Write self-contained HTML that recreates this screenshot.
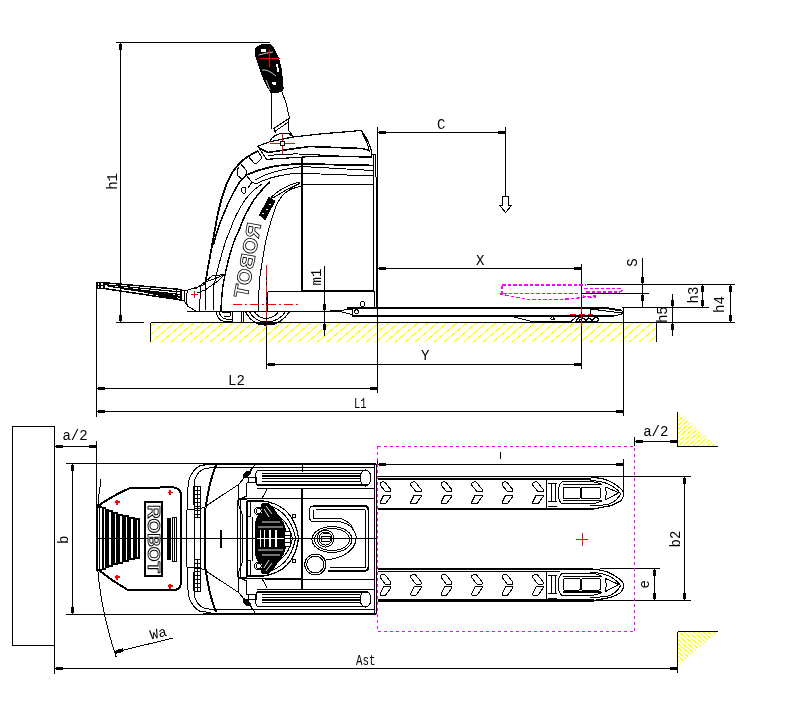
<!DOCTYPE html>
<html><head><meta charset="utf-8"><style>
html,body{margin:0;padding:0;background:#fff;width:801px;height:717px;overflow:hidden}
svg{display:block}

</style></head><body>
<svg style="will-change:transform" width="801" height="717" viewBox="0 0 801 717" shape-rendering="crispEdges">
<defs>
<clipPath id="cg"><rect x="151" y="323" width="505.5" height="19.5"/></clipPath>
<clipPath id="ct1"><path d="M678 412L716.5 446H678Z"/></clipPath>
<clipPath id="ct2"><path d="M678 632H718L678 665.5Z"/></clipPath>
</defs>
<!-- ground hatch -->
<path d="M125.95,322.5 L102.42,342.5 M135.70,322.5 L112.17,342.5 M145.45,322.5 L121.92,342.5 M155.20,322.5 L131.67,342.5 M164.95,322.5 L141.42,342.5 M174.70,322.5 L151.17,342.5 M184.45,322.5 L160.92,342.5 M194.20,322.5 L170.67,342.5 M203.95,322.5 L180.42,342.5 M213.70,322.5 L190.17,342.5 M223.45,322.5 L199.92,342.5 M233.20,322.5 L209.67,342.5 M242.95,322.5 L219.42,342.5 M252.70,322.5 L229.17,342.5 M262.45,322.5 L238.92,342.5 M272.20,322.5 L248.67,342.5 M281.95,322.5 L258.42,342.5 M291.70,322.5 L268.17,342.5 M301.45,322.5 L277.92,342.5 M311.20,322.5 L287.67,342.5 M320.95,322.5 L297.42,342.5 M330.70,322.5 L307.17,342.5 M340.45,322.5 L316.92,342.5 M350.20,322.5 L326.67,342.5 M359.95,322.5 L336.42,342.5 M369.70,322.5 L346.17,342.5 M379.45,322.5 L355.92,342.5 M389.20,322.5 L365.67,342.5 M398.95,322.5 L375.42,342.5 M408.70,322.5 L385.17,342.5 M418.45,322.5 L394.92,342.5 M428.20,322.5 L404.67,342.5 M437.95,322.5 L414.42,342.5 M447.70,322.5 L424.17,342.5 M457.45,322.5 L433.92,342.5 M467.20,322.5 L443.67,342.5 M476.95,322.5 L453.42,342.5 M486.70,322.5 L463.17,342.5 M496.45,322.5 L472.92,342.5 M506.20,322.5 L482.67,342.5 M515.95,322.5 L492.42,342.5 M525.70,322.5 L502.17,342.5 M535.45,322.5 L511.92,342.5 M545.20,322.5 L521.67,342.5 M554.95,322.5 L531.42,342.5 M564.70,322.5 L541.17,342.5 M574.45,322.5 L550.92,342.5 M584.20,322.5 L560.67,342.5 M593.95,322.5 L570.42,342.5 M603.70,322.5 L580.17,342.5 M613.45,322.5 L589.92,342.5 M623.20,322.5 L599.67,342.5 M632.95,322.5 L609.42,342.5 M642.70,322.5 L619.17,342.5 M652.45,322.5 L628.92,342.5 M662.20,322.5 L638.67,342.5 M671.95,322.5 L648.42,342.5 M681.70,322.5 L658.17,342.5" stroke="#ff0" stroke-width="1" fill="none" clip-path="url(#cg)"/>
<g fill="none" stroke="#000" stroke-width="1">
<!-- SIDE VIEW DIMENSIONS -->
<path d="M116 42.5H270 M120.5 42.5V322.5 M116 322.5H144 M150.5 322.5H735 M150.5 322.5V342 M656.5 322.5V342"/>
<path d="M96.5 285V416.5 M96.5 388.5H377.5 M96.5 411.5H623.5 M377.5 127V393 M623.5 307V416"/>
<path d="M266.5 270V369 M266.5 364.5H581.5 M581.5 264V369 M377.5 268.5H581.5"/>
<path d="M377.5 132.5H505.5 M505.5 127V196"/>
<path d="M502.5 196.5H508.5V205H512L505.5 212.5L499.5 205H502.5Z"/>
<path d="M587 284.5H735 M581 293.5H649 M622 307.5H709 M642.5 258V307 M702.5 284.5V307.5 M730.5 284.5V322.5 M672.5 293.5V335.5"/>
<path d="M324.5 266V335.5"/>
<!-- TOP VIEW DIMENSIONS -->
<path d="M12.5 426.5H54.5V645.5H12.5Z M54.5 645V674 M54.5 446.5H96.5 M96.5 441V505"/>
<path d="M66 463.5H375 M66 614.5H375 M72.5 464V614 M54.5 668.5H677"/>
<path d="M377.5 464.5H623.5 M623.5 459V497 M377.5 459V465"/>
<path d="M377.5 476.5H691 M585 600.5H691 M684.5 477V600 M600 568.5H660 M654.5 569V600"/>
<path d="M634.5 437V446 M634.5 441.5H677"/>
<path d="M677.5 412V446.5H718 M677.5 631.5V673 M677.5 631.5H718"/>
</g>
<!-- wall triangles hatch -->
<path d="M675.10,411 L633.34,446.5 M680.00,411 L638.24,446.5 M684.90,411 L643.14,446.5 M689.80,411 L648.04,446.5 M694.70,411 L652.94,446.5 M699.60,411 L657.84,446.5 M704.50,411 L662.74,446.5 M709.40,411 L667.64,446.5 M714.30,411 L672.54,446.5 M719.20,411 L677.44,446.5 M724.10,411 L682.34,446.5 M729.00,411 L687.24,446.5 M733.90,411 L692.14,446.5 M738.80,411 L697.04,446.5 M743.70,411 L701.94,446.5 M748.60,411 L706.84,446.5 M753.50,411 L711.74,446.5 M758.40,411 L716.64,446.5 M763.30,411 L721.54,446.5 M768.20,411 L726.44,446.5" stroke="#ff0" stroke-width="1" fill="none" clip-path="url(#ct1)"/>
<path d="M600.00,631.5 L640.00,665.5 M604.90,631.5 L644.90,665.5 M609.80,631.5 L649.80,665.5 M614.70,631.5 L654.70,665.5 M619.60,631.5 L659.60,665.5 M624.50,631.5 L664.50,665.5 M629.40,631.5 L669.40,665.5 M634.30,631.5 L674.30,665.5 M639.20,631.5 L679.20,665.5 M644.10,631.5 L684.10,665.5 M649.00,631.5 L689.00,665.5 M653.90,631.5 L693.90,665.5 M658.80,631.5 L698.80,665.5 M663.70,631.5 L703.70,665.5 M668.60,631.5 L708.60,665.5 M673.50,631.5 L713.50,665.5 M678.40,631.5 L718.40,665.5 M683.30,631.5 L723.30,665.5 M688.20,631.5 L728.20,665.5 M693.10,631.5 L733.10,665.5 M698.00,631.5 L738.00,665.5 M702.90,631.5 L742.90,665.5 M707.80,631.5 L747.80,665.5 M712.70,631.5 L752.70,665.5 M717.60,631.5 L757.60,665.5 M722.50,631.5 L762.50,665.5 M727.40,631.5 L767.40,665.5 M732.30,631.5 L772.30,665.5 M737.20,631.5 L777.20,665.5 M742.10,631.5 L782.10,665.5 M747.00,631.5 L787.00,665.5 M751.90,631.5 L791.90,665.5 M756.80,631.5 L796.80,665.5" stroke="#ff0" stroke-width="1" fill="none" clip-path="url(#ct2)"/>
<!-- magenta rect -->
<rect x="377.5" y="446.5" width="257" height="185" fill="none" stroke="#f0f" stroke-dasharray="3 3"/>
<!-- center line -->
<path d="M97 538.5H377" stroke="#000" fill="none"/>
<!-- red cross -->
<path d="M576 539.5H588 M582.5 533V546" stroke="#f00" fill="none"/>
<!-- ===== SIDE VIEW TRUCK ===== -->
<g fill="none" stroke="#000" stroke-width="1" shape-rendering="crispEdges" stroke-linejoin="round">
<!-- tiller grip -->
<path d="M256,47.7 L261,44.9 L269.3,44.2 L272.8,46.3 L274.9,51.2 L278.4,58.1 L281.1,67.9 L282.5,80.4 L283.2,88.8 L281.8,91.6 L273.5,93 L270.7,92.3 L267.9,87.4 L263.7,79 L259.5,67.9 L256,56.7 L255.3,51.2Z" fill="#000"/>
<path d="M261,49.5 L266,48.8 L266.5,51.5 L261.5,52Z M276,64.5 L277.8,64 L279.3,71.5 L277.6,73Z M272,82 L275.5,81.5 L276.5,85 L272.8,85.5Z" fill="#fff" stroke="none"/>
<path d="M258.5,55 Q266,53 273,52 M262,70 Q268,69 276,76 M266,80 L270,90" stroke="#fff" stroke-width="0.8" fill="none"/>
<!-- tiller shaft -->
<path d="M271.8,93 V128.5 M281.8,91.6 L286,102.8 L289.5,118.1 L273.5,128.6 M274.9,131.4 L288.1,122.3 M288.8,119 V130.7 L293,136.2 M274.2,129.3 L275.6,133.4"/>
<!-- tiller base dome -->
<path d="M269.2,141.9 Q274,134 281.5,133.6 L288.5,133.1 L292.8,137"/>
<!-- hood -->
<path d="M257.9,146.2 L269,142 L292.8,137 L320,134 L361,130.5 Q368,138 371.5,151.5 L371.5,157 L320,156 L266.6,159.3 Z" stroke-width="1.2"/>
<path d="M361.9,133.1 Q367,140 369.5,152"/>
<path d="M259,148 L268,152.5 Q290,149 310,146.5 L362,148.5 L370,150.5" stroke-width="1.6"/>
<path d="M268,155.5 Q290,153 310,154.5 L368,157.5"/>
<!-- body top lines below hood -->
<path d="M248,174.5 Q262,168 280,165.5 L298,163.8 L373,165.5" stroke-width="1.8"/>
<path d="M255,180 Q268,172 290,168.5 L302,166.5 L373,170.5"/>
<path d="M256,184 Q268,177 290,174 L302,173.3 L373,176"/>
<path d="M302,185 L316,184.5 L373,184.5"/>
<!-- right edge verticals -->
<path d="M373.5,154.5 V290 M375.5,154.5 V177 M372,154.5 H375.5"/>
<path d="M376.6,177 V308" stroke-width="2"/>
<!-- battery box -->
<path d="M302,157.5 V291 H374" stroke-width="2"/>
<!-- inner arch (line 5) -->
<path d="M301,186.5 Q290,188 284,194 Q277,201 274,212 Q268,230 265,245 Q262,262 259.5,280 L258,311"/>
<!-- slot -->
<path d="M271.5,197 Q283,186 299,182 L299.5,183.5 Q285,190 273,198Z"/>
<!-- front cover band curves -->
<path d="M258,151 Q247,156 240,163 Q232,171 227,183 Q221,198 217,218 L213,240 Q210,257 207.5,270 L205.5,283" stroke-width="1.8"/>
<path d="M247,175 Q240,180 236,188 Q228,202 222,218 Q216,233 213.5,245" stroke-width="1.5"/>
<path d="M262,184 Q250,192 245,200 Q235,215 231,228 L226,240 Q221,256 217.5,270 L214,285 L213.5,300 L213,311"/>
<path d="M270,182 Q258,193 252,203 Q244,216 240,228 L234.5,240 Q229,256 226,270 L223,285 L221.5,300 L221,311" stroke-width="1.5"/>
<!-- shoulder pieces -->
<path d="M240,163 L246,170 L247,175 M248,156 L254,163 M254,152.5 L258,151 L262,158 L257,163 L254,163 M242,179 L248,174.5 M245,174 L252,182 L256,184 M252,182 L248,188"/>
<path d="M238.5,167.5 Q236,172 238,176 L242,179"/>
<path d="M243,193 Q240,190 243,187 L246,188 L245,193Z"/>
<!-- front tiller base wedge -->
<path d="M195,289 L205,282 L213,279.5 L224.5,274.5 L218,281 L205,290 M206,281 L212,276 L224.5,274.5 M205,290 L197,293"/>
<path d="M187.6,290.2 L201.9,285.7 L206,283 M187.6,290.2 Q185,300 187.6,306 L195.9,311.2 L213,311"/>
<path d="M201,287 L199,311 M206,284 L205,311"/>
</g>
<g fill="none" stroke="#f00" stroke-width="1">
<path d="M270,143.5H295 M282.5,133V154"/>
<path d="M260,58.5H280 M269.5,50V67"/>
</g>
<path d="M190.5,294.5H198 M194.5,291V298" fill="none" stroke="#f00"/>
<g fill="#fff" stroke="#000" stroke-width="1"><rect x="280.5" y="141.5" width="4" height="4"/>
</g>
<!-- side lower: chassis, wheels, forks -->
<g fill="none" stroke="#000" stroke-width="1" shape-rendering="crispEdges" stroke-linejoin="round">
<!-- frame rect -->
<path d="M267.5,291.5 V311"/>
<path d="M374.8,291 V308"/>
<!-- chassis bottom -->
<path d="M187,311.25 H330 L340,310.6"/>
<!-- wheel bay verticals -->
<path d="M232.5,311 V322 M241,311 V322 M243,311 V322"/>
<!-- caster wheel -->
<path d="M216,311 Q217,320 224,321.5 L232,321.5 M219,311 Q220,318 226,319 L232,319 M222,312 L230,312 L230,316 L224,316" />
<!-- drive wheel -->
<path d="M245,311 Q252,325 266,325 Q281,325 290,311" stroke-width="1.2"/>
<path d="M249,311 Q255,322 266,322 Q279,322 286,311"/>
<path d="M254,311 Q258,318 266,318.5 Q275,318 279,311"/>
<path d="M258,324 L275,324" stroke-width="2"/>
<!-- fork side view -->
<path d="M347,308 H606.3 L621,310.5" stroke-width="2"/>
<path d="M352,315.6 H614" stroke-width="2"/>
<path d="M352,308 V315.6"/>
<path d="M330,311 L340,310.6 L352,309 M330,311 L340,311.5 L352,314.4"/>
<circle cx="356.5" cy="311.8" r="2"/>
<circle cx="362.5" cy="304" r="2.5"/>
<path d="M590.2,308 V315"/>
<path d="M606.3,308 Q617,309 621.5,310.5 L623,312 L621.5,314.5 L614,315.6"/>
<path d="M590.6,309 L622,313"/>
<path d="M480,315.6 L510,316 L530,321 L571.5,321 L576,317 L600,316"/>
<path d="M576,321.5 Q578,316.5 584,316.5 L590,316.5 Q597,316.5 599,319 L597,321.5 Z" stroke-width="1.3"/>
<path d="M579,320.5 L583,318 L586,320.5 L589,318 L592,320.5 L595,318" stroke-width="1.4"/>
<path d="M577,321.5 H597" stroke-width="1.6"/>
<path d="M550.5,319 L552.4,316.5 L554.5,319 Z"/>
<!-- lowered tiller arm -->
<path d="M97,282.7 L104,282.7 L180.9,289.5 V300 L104,288.5 L97,288.5 Z" stroke-width="1.5"/>
<path d="M104,284.6 L180.9,292 M108,286.3 L180.9,294.6 M120,288.3 L180.9,297.3 M104,282.7 V288.5 M100,282.7 V288.5" stroke-width="1.2"/>
<path d="M97,285.5 H104" stroke-width="1"/>
<path d="M130,289.5 L178,296" stroke-width="1.6"/>
<path d="M145,292.3 L178,298.6" stroke-width="1.4"/>
<path d="M176.5,290 V299.5" stroke-width="1.5"/>
<path d="M181,290.5 L184,291 L188,290 M184,291 V300 L181,300 M184,300 L187.6,306"/>
</g>
<!-- magenta raised fork -->
<g fill="none" stroke="#f0f" stroke-width="1.2" stroke-dasharray="3.5 2" shape-rendering="crispEdges">
<path d="M502,285 H586"/>
<path d="M502,285.5 V293.5 M500,294 L530,299.9 L570,299 L598,295.5"/>
<path d="M503,293.5 H579"/>
<path d="M584,288.5 H620 L622,290.5 L620,292 H584"/>
<path d="M583,296 L590,297.5 L596,297"/>
</g>
<!-- red center lines -->
<g fill="none" stroke="#f00" stroke-width="1">
<path d="M232.5,304.3 H301" stroke-dasharray="9 3 2 3"/>
<path d="M266.7,265 V327" stroke-dasharray="12 3 2 3"/>
<path d="M570,314.5 H593" stroke-dasharray="6 3"/>
<path d="M581.5,307 V327" stroke-dasharray="5 2"/>
</g>
<g fill="none" stroke="#000" stroke-width="1" shape-rendering="crispEdges">
<path d="M267.5,291.5 H302"/>
<path d="M259.5,215 L265,219.5 L275,201 L269,197.5 Z" fill="#000"/>
<path d="M262,213 L264,214 M266,209 L268,210 M269,204 L271,205" stroke="#fff"/>
<text transform="translate(247,260) rotate(-79.5) scale(-1,1)" x="0" y="7.5" text-anchor="middle" font-family="Liberation Sans, sans-serif" font-weight="bold" font-size="20" textLength="76" lengthAdjust="spacingAndGlyphs" fill="#fff" stroke="#000" stroke-width="0.8">ROBOT</text>
</g>
<!-- ===== TOP VIEW TRUCK ===== -->
<g fill="none" stroke="#000" stroke-width="1" shape-rendering="crispEdges" stroke-linejoin="round">
<path d="M203,464 H375.5 M203,613.5 H375.5" stroke-width="2"/>
<path d="M374.1,464 V614 M376.3,464 V614"/>
<path d="M98,506 Q112,496 130,488 L172.5,487.3 Q181,487.5 181,496 V582 Q181,590.5 172,590.5 L128,590 Q112,581 98.5,570" stroke-width="2"/>
<path d="M101,479.5 A374,374 0 0,0 116.3,657.3"/>
<path d="M114.7,652.2 L172.5,638.2"/>
<path d="M116,650.6 L122.5,649 L123,651.6 L116.5,653.2Z" fill="#000"/>
<path d="M97.2,505 V571" stroke-width="1.5"/>
<path d="M96.3,506.3 L102,506.3 L102,507.2 L105.5,507.2 L105.5,508.8 L108.8,508.8 L108.8,510 L112.5,510 L112.5,512 L118.2,512 L118.2,513.5 L123.2,513.5 L123.2,515.4 L128.9,515.4 L128.9,517.3 L135.2,517.3 L135.2,518.2 L139.9,518.2 L139.9,558.8 L135.2,558.8 L135.2,559.7 L128.9,559.7 L128.9,561.6 L123.2,561.6 L123.2,563.5 L118.2,563.5 L118.2,565 L112.5,565 L112.5,567 L108.8,567 L108.8,568.2 L105.5,568.2 L105.5,569.8 L102,569.8 L102,570.7 L96.3,570.7 Z" fill="#000" stroke="none"/>
<rect x="97.8" y="508.3" width="1.3" height="60.4" fill="#fff" stroke="none"/>
<rect x="100.3" y="508.3" width="1.6" height="60.4" fill="#fff" stroke="none"/>
<rect x="103.8" y="509.2" width="1.2" height="58.6" fill="#fff" stroke="none"/>
<rect x="109.1" y="512" width="1.9" height="53.0" fill="#fff" stroke="none"/>
<rect x="115.1" y="514" width="1.2" height="49.0" fill="#fff" stroke="none"/>
<rect x="120.1" y="515.5" width="1.9" height="46.0" fill="#fff" stroke="none"/>
<rect x="125.7" y="517.4" width="1.6" height="42.2" fill="#fff" stroke="none"/>
<rect x="131.1" y="519.3" width="1.9" height="38.4" fill="#fff" stroke="none"/>
<rect x="136.7" y="520.2" width="1.6" height="36.6" fill="#fff" stroke="none"/>
<path d="M96.3,538.5 H140" stroke="#000" stroke-width="1"/>
<rect x="167" y="518" width="3.6" height="41.7" fill="#000" stroke="none"/>
<rect x="172.3" y="517.4" width="4.2" height="43.6"/>
<path d="M174.4,517.4 V561"/>
<rect x="145" y="502" width="17" height="74" stroke-width="2"/>
<text transform="translate(153.5,539) rotate(90)" x="0" y="5.5" text-anchor="middle" font-family="Liberation Sans, sans-serif" font-weight="bold" font-size="16" textLength="68" lengthAdjust="spacingAndGlyphs" fill="#fff" stroke="#000" stroke-width="0.9">ROBOT</text>
<path d="M187.5,510 Q187,490 189,480 Q192,470 200,465.6 L211,464.4"/>
<path d="M187.5,510 Q187,490 189,480 Q192,470 200,465.6 L211,464.4" transform="translate(0,1077) scale(1,-1)"/>
<path d="M194,505 Q193,488 195,479 Q198,471 204,469 L212,467.5"/>
<path d="M194,505 Q193,488 195,479 Q198,471 204,469 L212,467.5" transform="translate(0,1077) scale(1,-1)"/>
<path d="M194.4,486 H200.6 V517.5 H194.4 Z M194.4,490 H200.6 M194.4,494 H200.6 M194.4,498 H200.6 M194.4,502 H200.6 M194.4,506 H200.6 M194.4,510 H200.6 M194.4,514 H200.6 M197.5,486 V517.5"/>
<path d="M194.4,486 H200.6 V517.5 H194.4 Z M194.4,490 H200.6 M194.4,494 H200.6 M194.4,498 H200.6 M194.4,502 H200.6 M194.4,506 H200.6 M194.4,510 H200.6 M194.4,514 H200.6 M197.5,486 V517.5" transform="translate(0,1077) scale(1,-1)"/>
<path d="M216,465 Q212.5,474 210,484 Q207.5,495 205.5,507.5" stroke-width="2"/>
<path d="M216,465 Q212.5,474 210,484 Q207.5,495 205.5,507.5" transform="translate(0,1077) scale(1,-1)" stroke-width="2"/>
<path d="M206,506 L238.7,484.4 L250,471 L255,464.5"/>
<path d="M206,506 L238.7,484.4 L250,471 L255,464.5" transform="translate(0,1077) scale(1,-1)"/>
<path d="M238.7,484.4 V505 L240.5,510 L242.5,515 V538.5"/>
<path d="M238.7,484.4 V505 L240.5,510 L242.5,515 V538.5" transform="translate(0,1077) scale(1,-1)"/>
<path d="M211,467.5 H374"/>
<path d="M211,467.5 H374" transform="translate(0,1077) scale(1,-1)"/>
<path d="M187.5,510 L205.5,507.5"/>
<path d="M187.5,510 L205.5,507.5" transform="translate(0,1077) scale(1,-1)"/>
<path d="M237.8,499.8 H246.9 M239,498.4 H302"/>
<path d="M237.8,499.8 H246.9 M239,498.4 H302" transform="translate(0,1077) scale(1,-1)"/>
<path d="M243,476.5 Q244,472 248,471.5 Q250,472 249,475 Q247,478.5 243,478Z" fill="#000"/>
<path d="M243,476.5 Q244,472 248,471.5 Q250,472 249,475 Q247,478.5 243,478Z" fill="#000" transform="translate(0,1077) scale(1,-1)"/>
<path d="M249.7,475 L252.7,466.7" />
<path d="M249.7,475 L252.7,466.7"  transform="translate(0,1077) scale(1,-1)"/>
<path d="M246.7,477.6 H256.5 V482.5 H246.7 M248.5,477.6 Q247.5,480 248.5,482.5" />
<path d="M246.7,477.6 H256.5 V482.5 H246.7 M248.5,477.6 Q247.5,480 248.5,482.5"  transform="translate(0,1077) scale(1,-1)"/>
<path d="M246.7,482.5 V496 L240,499" />
<path d="M246.7,482.5 V496 L240,499"  transform="translate(0,1077) scale(1,-1)"/>
<path d="M267,489.2 L261.7,499" />
<path d="M267,489.2 L261.7,499"  transform="translate(0,1077) scale(1,-1)"/>
<path d="M186.5,510 V567 M205.3,507.5 V569.5"/>
<path d="M194.5,517 V560 M200.6,517 V560"/>
<path d="M205.3,507.5 V569.5" stroke-width="2"/>
<rect x="219.5" y="529.5" width="2.5" height="18" fill="#000" stroke="none"/>
<path d="M257,470.8 H368 M257,485 H368" stroke-width="1.2"/>
<path d="M262,473.6 H360" stroke-width="1"/>
<path d="M262,476.2 H360" stroke-width="1.6"/>
<path d="M262,478.6 H360" stroke-width="1.6"/>
<path d="M262,481.0 H360" stroke-width="1"/>
<ellipse cx="365.5" cy="477.9" rx="5.5" ry="8.1"/>
<path d="M362,471.8 Q358,477.9 362,484.0"/>
<path d="M257,470.8 Q253,477.9 257,485"/>
<path d="M257,592 H368 M257,606.2 H368" stroke-width="1.2"/>
<path d="M262,594.8 H360" stroke-width="1"/>
<path d="M262,597.4 H360" stroke-width="1.6"/>
<path d="M262,599.8 H360" stroke-width="1.6"/>
<path d="M262,602.2 H360" stroke-width="1"/>
<ellipse cx="365.5" cy="599.1" rx="5.5" ry="8.1"/>
<path d="M362,593.0 Q358,599.1 362,605.2"/>
<path d="M257,592 Q253,599.1 257,606.2"/>
<path d="M302,464 V472 M302,489 V590"/>
<path d="M302,489 V590" stroke-width="1.8"/>
<path d="M257,488 H374 M257,589 H374"/>
<path d="M265,498 H374 M265,579 H374"/>
<path d="M313,506 H364 Q368.4,506 368.4,510 V567 Q368.4,571 364,571 H328" stroke-width="1.8"/>
<path d="M313,506 Q309.5,506 309.5,510 V517 Q309.5,521.5 313,521.5 H336 Q352,522 356,536 Q357,548 344,555 Q336,559 326,560"/>
<path d="M316,509.5 H365 V567.5 H330" stroke-width="1"/>
<path d="M313,509.5 V518 H336 Q348,519 353,528"/>
<ellipse cx="332" cy="539.5" rx="20" ry="13"/>
<ellipse cx="332" cy="539.5" rx="17.5" ry="11"/>
<circle cx="325.5" cy="538.5" r="8.5"/>
<circle cx="325.5" cy="538.5" r="6.5"/>
<path d="M321,536 H330 V541 H321 Z M322.5,533 H328.5"/>
<circle cx="315.3" cy="564.5" r="10.5"/>
<circle cx="315.3" cy="564.5" r="8.5"/>
<path d="M247,501 H263 Q294,505 298.5,538.5 Q294,572 263,576 H247 Z" stroke-width="1.2"/>
<path d="M263,504 Q290,509 295.5,538.5 Q290,568 263,573"/>
<path d="M258,507 Q287,513 292.5,538.5 Q287,564 258,570"/>
<path d="M255.3,521 L258,515 L262,503 L268,502.5 L275,510 L283.5,522 L286,529 L286,548 L283.5,555 L275,567 L268,574.5 L262,574 L258,562 L255.3,556 Z" fill="#000" stroke="none"/>
<path d="M260.6,530 V547 M264.3,530 V547 M276,530 V547 M270,530 V547 M257,538.5 H284" stroke="#fff" stroke-width="1.3"/>
<path d="M266,506 L272,514 M264,509 L269,517 M266,571 L272,563 M264,568 L269,560 M262,522 L280,522 M262,555 L280,555 M258,527 H283 M258,550 H283" stroke="#fff" stroke-width="0.9"/>
<rect x="284.5" y="531" width="6" height="15" fill="#fff"/>
<path d="M284.5,535 H290.5 M284.5,538.5 H290.5 M284.5,542 H290.5"/>
<circle cx="258.7" cy="511" r="4" fill="#fff"/><circle cx="258.7" cy="511" r="2.5"/>
<circle cx="258.7" cy="566" r="4" fill="#fff"/><circle cx="258.7" cy="566" r="2.5"/>
<circle cx="294.1" cy="515.8" r="1.8"/><circle cx="294.1" cy="561.2" r="1.8"/>
<path d="M246,501.4 H250.5 V516.5 H246 Z M246,576 H250.5 V560.5 H246 Z M252.6,516.5 V560.5"/>
<path d="M240.6,500 V577 M237.8,500 V577"/>
</g>
<g stroke="#f00" stroke-width="1.5" fill="none">
<path d="M114.5,502 H119.5 M117,499.5 V504.5"/>
<path d="M167.5,492.5 H172.5 M170,490.0 V495.0"/>
<path d="M114.5,577 H119.5 M117,574.5 V579.5"/>
<path d="M167.5,586 H172.5 M170,583.5 V588.5"/>
</g>
<g fill="none" stroke="#000" stroke-width="1" shape-rendering="crispEdges" stroke-linejoin="round">
<path d="M377.5,478.7 H590.6" stroke-width="2"/>
<path d="M377.5,508.5 H594" stroke-width="2"/>
<path d="M590.6,477.1 Q605,478.3 612,482.40000000000003 Q621,487.6 623.7,492.3 V495.8 Q621,501.8 618.7,502.0 Q612,505.8 607.4,506.3 L594,508.8" stroke-width="1.2"/>
<path d="M590,480.3 Q603,481.3 610,484.8 Q618,489.3 620.5,493.8 Q618,499.8 610,503.8 Q603,505.8 590,505.5"/>
<path d="M546.2,478.8 V507.8"/>
<path d="M548,479.8 H557 M548,506.3 H557 M551,483.8 V501.8 M555,483.8 V501.8 M548,483.8 H557 M548,501.8 H557"/>
<path d="M562,481.8 Q558,484.8 558.5,492.8 Q558,500.8 562,503.8 H588 Q596,503.8 602,500.8 M562,481.8 H590 Q598,481.8 602,484.8"/>
<rect x="563.6" y="487.2" width="16.6" height="11.2" rx="1"/>
<rect x="581.2" y="487.2" width="19" height="11.2" rx="1"/>
<path d="M563,484.8 H601 M563,500.3 H601" stroke-width="1.2"/>
<path d="M605.5,486.8 L618.7,492.8 L605.5,499.8 Q607,493.3 605.5,486.8"/>
<path d="M380.2,483.0 L383.2,481.5 L385.2,482.5 L390.7,489.5 V491.5 H385.2 L380.2,485.0 Z"/>
<path d="M383.7,495 H390.7 V496.5 L385.7,503.5 H380.2 V502 Z"/>
<path d="M410.7,483.0 L413.7,481.5 L415.7,482.5 L421.2,489.5 V491.5 H415.7 L410.7,485.0 Z"/>
<path d="M414.2,495 H421.2 V496.5 L416.2,503.5 H410.7 V502 Z"/>
<path d="M441.2,483.0 L444.2,481.5 L446.2,482.5 L451.7,489.5 V491.5 H446.2 L441.2,485.0 Z"/>
<path d="M444.7,495 H451.7 V496.5 L446.7,503.5 H441.2 V502 Z"/>
<path d="M471.7,483.0 L474.7,481.5 L476.7,482.5 L482.2,489.5 V491.5 H476.7 L471.7,485.0 Z"/>
<path d="M475.2,495 H482.2 V496.5 L477.2,503.5 H471.7 V502 Z"/>
<path d="M502.2,483.0 L505.2,481.5 L507.2,482.5 L512.7,489.5 V491.5 H507.2 L502.2,485.0 Z"/>
<path d="M505.7,495 H512.7 V496.5 L507.7,503.5 H502.2 V502 Z"/>
<path d="M532.7,483.0 L535.7,481.5 L537.7,482.5 L543.2,489.5 V491.5 H537.7 L532.7,485.0 Z"/>
<path d="M536.2,495 H543.2 V496.5 L538.2,503.5 H532.7 V502 Z"/>
<path d="M377.5,569 H590.6" stroke-width="2"/>
<path d="M377.5,600 H594" stroke-width="3"/>
<path d="M377.5,571.5 H560"/>
<path d="M590.6,568.8 Q605,570.0 612,574.1 Q621,579.3 623.7,584.0 V587.5 Q621,593.5 618.7,593.7 Q612,597.5 607.4,598.0 L594,600.5" stroke-width="1.2"/>
<path d="M590,572.0 Q603,573.0 610,576.5 Q618,581.0 620.5,585.5 Q618,591.5 610,595.5 Q603,597.5 590,597.2"/>
<path d="M546.2,570.5 V599.5"/>
<path d="M548,571.5 H557 M548,598.0 H557 M551,575.5 V593.5 M555,575.5 V593.5 M548,575.5 H557 M548,593.5 H557"/>
<path d="M562,573.5 Q558,576.5 558.5,584.5 Q558,592.5 562,595.5 H588 Q596,595.5 602,592.5 M562,573.5 H590 Q598,573.5 602,576.5"/>
<rect x="563.6" y="578.9" width="16.6" height="11.2" rx="1"/>
<rect x="581.2" y="578.9" width="19" height="11.2" rx="1"/>
<path d="M563,576.5 H601 M563,592.0 H601" stroke-width="1.2"/>
<path d="M605.5,578.5 L618.7,584.5 L605.5,591.5 Q607,585.0 605.5,578.5"/>
<path d="M380.2,575.5 L383.2,574 L385.2,575 L390.7,582 V584 H385.2 L380.2,577.5 Z"/>
<path d="M383.7,586.5 H390.7 V588.0 L385.7,595.0 H380.2 V593.5 Z"/>
<path d="M410.7,575.5 L413.7,574 L415.7,575 L421.2,582 V584 H415.7 L410.7,577.5 Z"/>
<path d="M414.2,586.5 H421.2 V588.0 L416.2,595.0 H410.7 V593.5 Z"/>
<path d="M441.2,575.5 L444.2,574 L446.2,575 L451.7,582 V584 H446.2 L441.2,577.5 Z"/>
<path d="M444.7,586.5 H451.7 V588.0 L446.7,595.0 H441.2 V593.5 Z"/>
<path d="M471.7,575.5 L474.7,574 L476.7,575 L482.2,582 V584 H476.7 L471.7,577.5 Z"/>
<path d="M475.2,586.5 H482.2 V588.0 L477.2,595.0 H471.7 V593.5 Z"/>
<path d="M502.2,575.5 L505.2,574 L507.2,575 L512.7,582 V584 H507.2 L502.2,577.5 Z"/>
<path d="M505.7,586.5 H512.7 V588.0 L507.7,595.0 H502.2 V593.5 Z"/>
<path d="M532.7,575.5 L535.7,574 L537.7,575 L543.2,582 V584 H537.7 L532.7,577.5 Z"/>
<path d="M536.2,586.5 H543.2 V588.0 L538.2,595.0 H532.7 V593.5 Z"/>
</g>
<!-- labels -->
<g font-family="Liberation Mono" font-size="14" fill="#000">
<text x="436.9" y="129.1">C</text>
<text x="475.9" y="265.4">X</text>
<text x="421.0" y="360.2">Y</text>
<text x="228.0" y="385.4">L2</text>
<text x="354.0" y="407.9" textLength="12.5" lengthAdjust="spacingAndGlyphs">L1</text>
<text x="356.0" y="665.0" textLength="19.5" lengthAdjust="spacingAndGlyphs">Ast</text>
<text x="62.4" y="440.4">a/2</text>
<text x="643.2" y="436.1">a/2</text>
<text transform="translate(116.5,189.8) rotate(-90)">h1</text>
<text transform="translate(321.0,285.5) rotate(-90)">m1</text>
<text transform="translate(636.5,266.8) rotate(-90)">S</text>
<text transform="translate(697.5,303.5) rotate(-90)">h3</text>
<text transform="translate(724.1,313.0) rotate(-90)">h4</text>
<text transform="translate(667.3,323.1) rotate(-90)">h5</text>
<text transform="translate(68.0,544.0) rotate(-90)">b</text>
<text transform="translate(679.5,547.5) rotate(-90)">b2</text>
<text transform="translate(649.2,588.5) rotate(-90)">e</text>
<text transform="translate(151.0,639.5) rotate(-13)">Wa</text>
</g>
<path d="M500.5,452V459" stroke="#000" stroke-width="1.2"/>
<g fill="#000" stroke="none">
<rect x="119.1" y="44.0" width="2.8" height="6.0"/>
<rect x="119.1" y="315.0" width="2.8" height="6.0"/>
<rect x="71.1" y="465.0" width="2.8" height="6.0"/>
<rect x="71.1" y="607.0" width="2.8" height="6.0"/>
<rect x="683.1" y="478.0" width="2.8" height="6.0"/>
<rect x="683.1" y="593.0" width="2.8" height="6.0"/>
<rect x="653.1" y="570.0" width="2.8" height="6.0"/>
<rect x="653.1" y="593.0" width="2.8" height="6.0"/>
<rect x="701.1" y="286.0" width="2.8" height="6.0"/>
<rect x="701.1" y="300.0" width="2.8" height="6.0"/>
<rect x="729.1" y="286.0" width="2.8" height="6.0"/>
<rect x="729.1" y="315.0" width="2.8" height="6.0"/>
<rect x="641.1" y="277.0" width="2.8" height="6.0"/>
<rect x="641.1" y="295.0" width="2.8" height="6.0"/>
<rect x="671.1" y="300.0" width="2.8" height="6.0"/>
<rect x="671.1" y="324.0" width="2.8" height="6.0"/>
<rect x="323.1" y="303.75" width="2.8" height="6.0"/>
<rect x="323.1" y="324.0" width="2.8" height="6.0"/>
<rect x="378.5" y="131.2" width="7.0" height="2.6"/>
<rect x="497.5" y="131.2" width="7.0" height="2.6"/>
<rect x="378.5" y="267.2" width="7.0" height="2.6"/>
<rect x="573.5" y="267.2" width="7.0" height="2.6"/>
<rect x="267.5" y="363.2" width="7.0" height="2.6"/>
<rect x="573.5" y="363.2" width="7.0" height="2.6"/>
<rect x="97.5" y="387.2" width="7.0" height="2.6"/>
<rect x="369.5" y="387.2" width="7.0" height="2.6"/>
<rect x="97.5" y="410.2" width="7.0" height="2.6"/>
<rect x="615.5" y="410.2" width="7.0" height="2.6"/>
<rect x="55.5" y="445.2" width="7.0" height="2.6"/>
<rect x="88.5" y="445.2" width="7.0" height="2.6"/>
<rect x="635.5" y="440.2" width="7.0" height="2.6"/>
<rect x="669.5" y="440.2" width="7.0" height="2.6"/>
<rect x="378.5" y="463.2" width="7.0" height="2.6"/>
<rect x="615.5" y="463.2" width="7.0" height="2.6"/>
<rect x="55.5" y="667.2" width="7.0" height="2.6"/>
<rect x="669.5" y="667.2" width="7.0" height="2.6"/>
</g>
</svg>
</body></html>
